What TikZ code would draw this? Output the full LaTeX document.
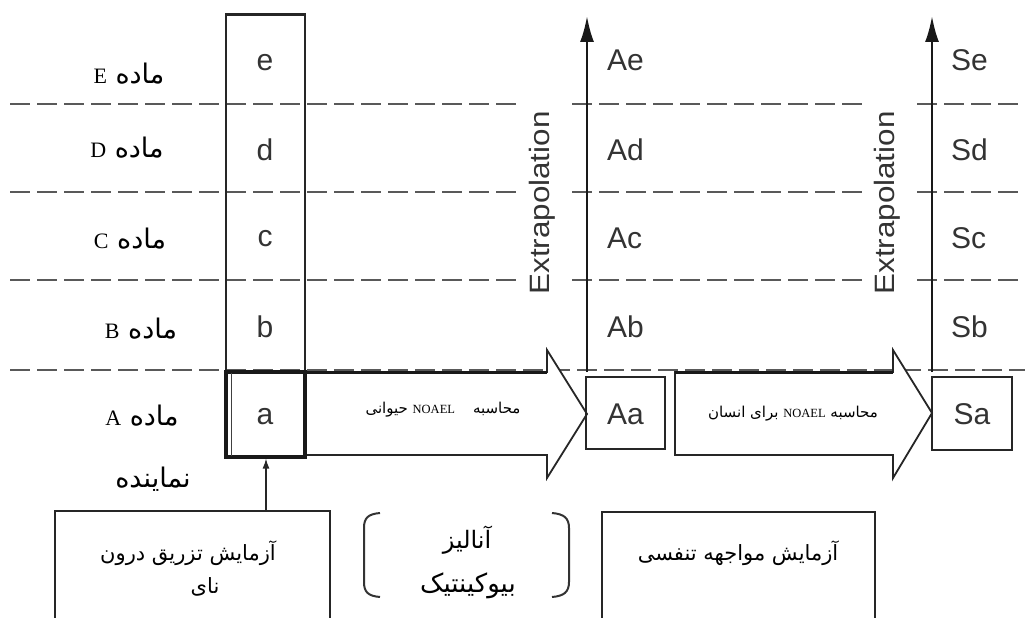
\documentclass[tikz,border=0pt]{standalone}
\usepackage{fontspec}
\usepackage{graphicx}
\setmainfont{Liberation Serif}
\newfontfamily\arabicfont[Script=Arabic]{DejaVu Sans}
\newfontfamily\arialfont{Liberation Sans}
\newcommand\noaelfont{\rmfamily\fontsize{12.5}{13}\selectfont}
\newcommand\latinlab{\rmfamily\fontsize{22}{22}\selectfont}
\TeXXeTstate=1
\usetikzlibrary{arrows.meta}
\begin{document}
\begin{tikzpicture}[x=1pt,y=-1pt,
  boxln/.style={draw=black!85, line width=2.6pt},
  dashln/.style={draw=black!65, line width=1.3pt, dash pattern=on 20pt off 7pt},
  letter/.style={font=\arialfont\fontsize{30}{30}\selectfont, text=black!80, inner sep=0pt},
  sidelab/.style={font=\arabicfont\fontsize{27}{30}\selectfont, inner sep=0pt, anchor=base},
  arlab/.style={font=\arabicfont\fontsize{21}{24}\selectfont, inner sep=0pt, anchor=base},
  arrlab/.style={font=\arabicfont\fontsize{15}{17}\selectfont, inner sep=0pt, anchor=base},
  extra/.style={rotate=90, font=\arialfont\fontsize{28}{28}\selectfont, text=black!80, inner sep=0pt},
  bigarrow/.style={draw=black!85, line width=1.8pt, fill=white, line join=miter},
  vup/.style={draw=black!90, line width=2.4pt, -{Latex[length=26pt,width=14pt]}},
  smallup/.style={draw=black!85, line width=1.3pt, -{Latex[length=10pt,width=7pt]}},
  paren/.style={draw=black!80, line width=2pt}
]
\useasboundingbox (0,0) rectangle (1025,618);

% dashed separators
\foreach \yy in {104,192,280}{
  \draw[dashln] (10,\yy) -- (518,\yy);
  \draw[dashln] (572,\yy) -- (863,\yy);
  \draw[dashln] (917,\yy) -- (1025,\yy);
}
\draw[dashln] (10,370) -- (1025,370);

% column box
\node[boxln, minimum width=79pt, minimum height=443pt, inner sep=0pt] (col) at (265.5,236) {};
% big arrows
\draw[bigarrow] (305,372) -- (547,372) -- (547,350) -- (587,414) -- (547,478) -- (547,455) -- (305,455) -- cycle;
\draw[black!90, line width=3pt] (305,372) -- (547,372);
\draw[bigarrow] (675,372) -- (893,372) -- (893,350) -- (932,413) -- (893,478) -- (893,455) -- (675,455) -- cycle;
\draw[black!90, line width=3pt] (675,372) -- (893,372);

% a box
\node[draw=black!90, line width=3.2pt, minimum width=79pt, minimum height=85pt, inner sep=0pt] (boxa) at (265.5,414.5) {};
\draw[black!75, line width=1.3pt] (231.5,373) -- (231.5,456);

% Aa and Sa boxes
\node[boxln, minimum width=79pt, minimum height=72pt, inner sep=0pt] (boxAa) at (625.5,413) {};
\node[boxln, minimum width=80pt, minimum height=73pt, inner sep=0pt] (boxSa) at (972,413.5) {};

% vertical extrapolation arrows
\coordinate (abase) at (587,372);
\coordinate (atop) at (587,16);
\coordinate (sbase) at (932,372);
\coordinate (stop) at (932,16);
\draw[vup] (abase) -- (atop);
\draw[vup] (sbase) -- (stop);
\node[extra] (ex1) at (542,203) {\scalebox{1.12}[1]{Extrapolation}};
\node[extra] (ex2) at (887,203) {\scalebox{1.12}[1]{Extrapolation}};

% column letters
\node[letter] (le) at (265,63) {e};
\node[letter] (ld) at (265,150) {d};
\node[letter] (lc) at (265,239) {c};
\node[letter] (lb) at (265,327) {b};
\node[letter] (la) at (265,417) {a};

% A column and S column letters
\node[letter, anchor=west] (Ae) at (607,60) {Ae};
\node[letter, anchor=west] (Ad) at (607,150) {Ad};
\node[letter, anchor=west] (Ac) at (607,238) {Ac};
\node[letter, anchor=west] (Ab) at (607,327) {Ab};
\node[letter] (Aa) at (625.5,414) {Aa};
\node[letter, anchor=west] (Se) at (951,60) {Se};
\node[letter, anchor=west] (Sd) at (951,150) {Sd};
\node[letter, anchor=west] (Sc) at (951,238) {Sc};
\node[letter, anchor=west] (Sb) at (951,327) {Sb};
\node[letter] (Sa) at (972,414) {Sa};

% left labels
\node[sidelab] (mE) at (129,83) {\beginR ماده {\latinlab E}\endR};
\node[sidelab] (mD) at (127,157) {\beginR ماده {\latinlab D}\endR};
\node[sidelab] (mC) at (130,248) {\beginR ماده {\latinlab C}\endR};
\node[sidelab] (mB) at (141,338) {\beginR ماده {\latinlab B}\endR};
\node[sidelab] (mA) at (142,425) {\beginR ماده {\latinlab A}\endR};
\node[sidelab] (rep) at (153,487) {\beginR نماینده\endR};

% arrow labels
\node[arrlab] (calc1) at (443,413) {\beginR محاسبه\hspace{18pt}{\noaelfont\beginL NOAEL\endL}\ حیوانی\endR};
\node[arrlab] (calc2) at (793,417) {\beginR محاسبه {\noaelfont\beginL NOAEL\endL} برای انسان\endR};

% bottom left box
\draw[boxln] (55,625) -- (55,511) -- (330,511) -- (330,625);
\coordinate (ivtop) at (266,511);
\node[arlab] (iv1) at (188,560) {\beginR آزمایش تزریق درون\endR};
\node[arlab] (iv2) at (205,593) {\beginR نای\endR};
\draw[smallup] (ivtop) -- (boxa.south -| ivtop);

% biokinetic analysis in parentheses
\draw[paren] (380,513) .. controls (368,514) and (364,518) .. (364,528) -- (364,582) .. controls (364,592) and (368,596) .. (380,597);
\draw[paren] (552,513) .. controls (564,514) and (569,518) .. (569,528) -- (569,582) .. controls (569,592) and (564,596) .. (552,597);
\node[arlab, font=\arabicfont\fontsize{24}{26}\selectfont] (bk1) at (467,548) {\beginR آنالیز\endR};
\node[arlab, font=\arabicfont\fontsize{26}{28}\selectfont] (bk2) at (468,592) {\beginR بیوکینتیک\endR};

% bottom right box
\draw[boxln] (602,625) -- (602,512) -- (875,512) -- (875,625);
\node[arlab] (inh) at (738,560) {\beginR آزمایش مواجهه تنفسی\endR};
\end{tikzpicture}
\end{document}
